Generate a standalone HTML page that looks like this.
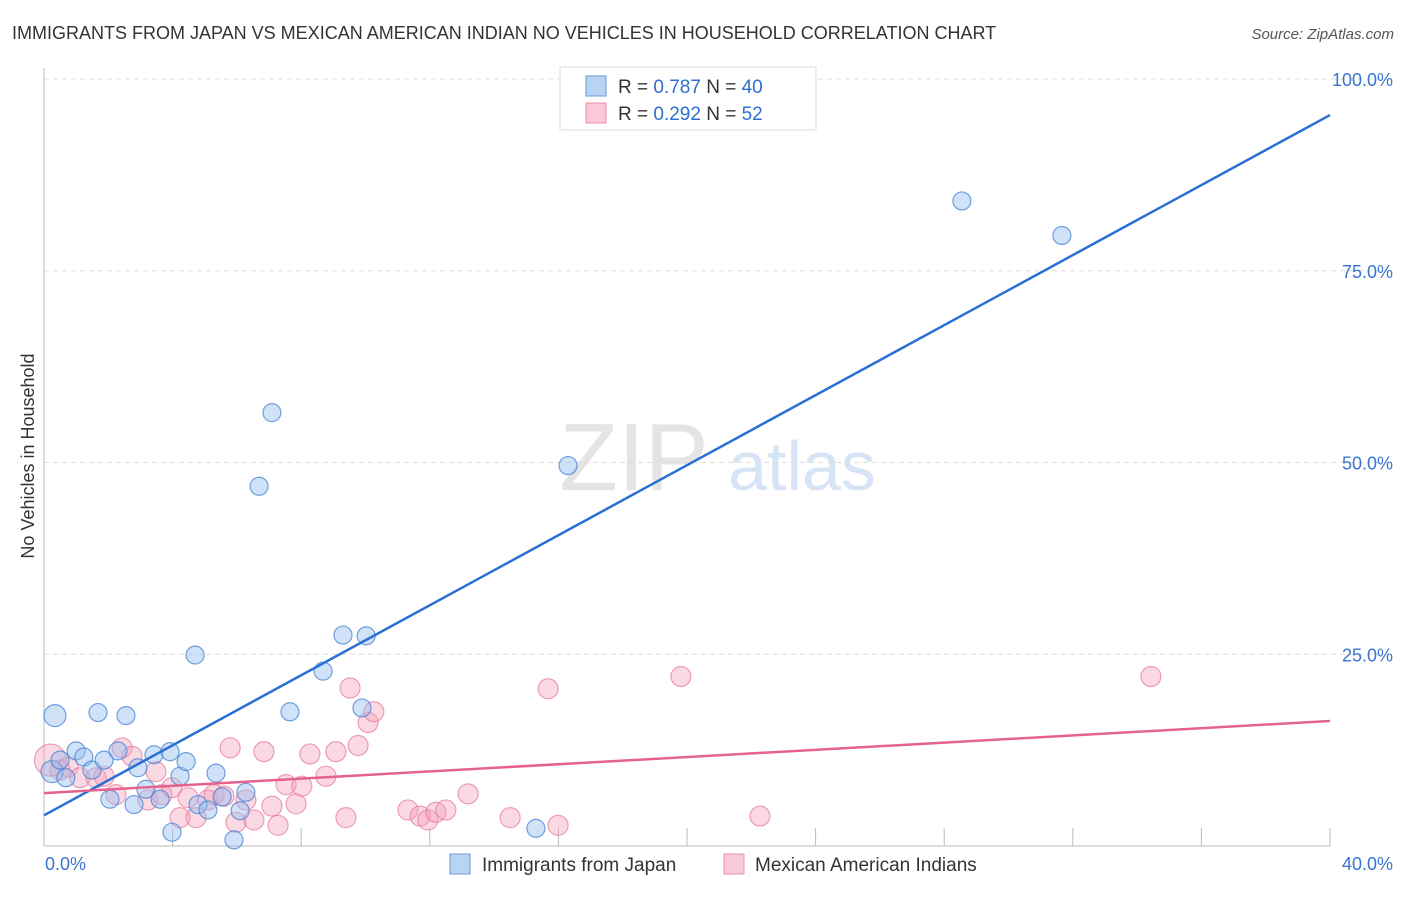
<!DOCTYPE html>
<html><head><meta charset="utf-8"><style>
body{margin:0;background:#fff;font-family:"Liberation Sans",sans-serif}
svg text{font-family:"Liberation Sans",sans-serif}
</style></head><body>
<svg id="c" width="1406" height="892" xmlns="http://www.w3.org/2000/svg">
<text x="12" y="39" font-size="18" fill="#333">IMMIGRANTS FROM JAPAN VS MEXICAN AMERICAN INDIAN NO VEHICLES IN HOUSEHOLD CORRELATION CHART</text>
<text x="1394" y="39" font-size="15" fill="#555" font-style="italic" text-anchor="end">Source: ZipAtlas.com</text>
<text x="634" y="490" font-size="96" fill="#e4e4e4" font-family="Liberation Serif" text-anchor="middle">ZIP</text>
<text x="802" y="490" font-size="70" fill="#d6e4f5" text-anchor="middle">atlas</text>
<text transform="translate(34,456) rotate(-90)" font-size="18" fill="#333" text-anchor="middle">No Vehicles in Household</text>
<g id="grid"></g><g id="pts"></g><g id="lines"></g>
<g>
<rect x="560" y="67" width="256" height="63" fill="#fff" stroke="#ddd"/>
<rect x="586" y="76" width="20" height="20" fill="#b9d3f5" stroke="#6a9ee0"/>
<rect x="586" y="103" width="20" height="20" fill="#f9c9d7" stroke="#e890ab"/>
<text x="618" y="93" font-size="19" fill="#333">R = <tspan fill="#2c6fd1">0.787</tspan>   N = <tspan fill="#2c6fd1">40</tspan></text>
<text x="618" y="120" font-size="19" fill="#333">R = <tspan fill="#2c6fd1">0.292</tspan>   N =  <tspan fill="#2c6fd1">52</tspan></text>
</g>
<g>
<rect x="450" y="854" width="20" height="20" fill="#b9d3f5" stroke="#6a9ee0"/>
<text x="482" y="871" font-size="19" fill="#333">Immigrants from Japan</text>
<rect x="724" y="854" width="20" height="20" fill="#f9c9d7" stroke="#e890ab"/>
<text x="755" y="871" font-size="19" fill="#333">Mexican American Indians</text>
</g>
</svg>
<script>
const yTicks=[25,50,75,100];
const yTickLabels=["25.0%","50.0%","75.0%","100.0%"];
const xTickValues=[4,8,12,16,20,24,28,32,36,40];
const xLabels=["0.0%","40.0%"];
const japanX=[0.34,1.68,2.55,0.25,0.5,1.0,1.24,1.49,1.87,2.05,2.3,2.8,2.92,3.17,3.42,3.61,3.92,3.98,4.23,4.42,4.7,4.79,5.1,5.35,5.54,5.91,6.1,6.28,6.69,7.09,7.65,8.68,9.3,10.02,9.89,15.3,16.3,28.55,31.66,0.68];
const japanY=[17.0,17.4,17.0,9.7,11.2,12.4,11.6,9.9,11.2,6.1,12.4,5.4,10.2,7.4,11.9,6.1,12.3,1.8,9.1,11.0,24.9,5.4,4.7,9.5,6.4,0.8,4.6,7.0,46.9,56.5,17.5,22.8,27.5,27.4,18.0,2.3,49.6,84.1,79.6,8.9];
const mexX=[0.2,0.5,0.75,1.12,1.62,1.87,2.24,2.43,2.74,3.23,3.48,3.67,3.98,4.23,4.48,4.73,5.1,5.29,5.6,5.79,5.97,6.28,6.53,6.84,7.09,7.28,7.53,7.84,8.02,8.27,8.77,9.08,9.39,9.52,9.77,10.08,10.26,11.32,11.7,11.94,12.19,12.5,13.19,14.5,15.68,15.99,19.81,22.27,34.43];
const mexY=[11.2,9.9,10.3,8.9,8.9,9.1,6.7,12.8,11.7,6.0,9.7,6.7,7.6,3.7,6.3,3.7,6.0,6.7,6.5,12.8,3.1,6.0,3.4,12.3,5.2,2.7,8.0,5.5,7.8,12.0,9.1,12.3,3.7,20.6,13.1,16.1,17.5,4.7,3.9,3.4,4.4,4.7,6.8,3.7,20.5,2.7,22.1,3.9,22.1];
const japanTrend=[4.0,95.3];
const mexTrend=[6.9,16.3];
const X0=44,X1=1330,Y0=846,Y100=79;
const sx=v=>X0+v/40*(X1-X0);
const sy=v=>Y0-v/100*(Y0-Y100);
const NS="http://www.w3.org/2000/svg";
function mk(tag,attrs,parent){const e=document.createElementNS(NS,tag);for(const k in attrs)e.setAttribute(k,attrs[k]);parent.appendChild(e);return e;}
const grid=document.getElementById('grid');
yTicks.forEach((t,i)=>{
 const l=mk('line',{x1:X0,x2:1394,y1:sy(t),y2:sy(t),stroke:'#ddd','stroke-dasharray':'5,4'},grid);
 
 
 const tx=mk('text',{x:1393,y:sy(t)+7,'font-size':18,fill:'#3a74d0','text-anchor':'end'},grid);
 tx.textContent=yTickLabels[i];
 
 
});
const ax=mk('line',{x1:X0,x2:X0,y1:68,y2:Y0,stroke:'#bbb'},grid);


const bx=mk('line',{x1:X0,x2:X1,y1:Y0,y2:Y0,stroke:'#bbb'},grid);


xTickValues.forEach(v=>{
 const l=mk('line',{x1:sx(v),x2:sx(v),y1:Y0,y2:Y0-18,stroke:'#bbb'},grid);
 
 
});
[[0,'start',xLabels[0]],[40,'end',xLabels[1]]].forEach(a=>{
 const t=mk('text',{x:a[0]===0?sx(0)+1:sx(40)+63,y:870,'font-size':18,fill:'#3a74d0','text-anchor':a[1]},grid);
 t.textContent=a[2];
 
 
});
const pts=document.getElementById('pts');
mexX.forEach((x,i)=>{
 const c=mk('circle',{cx:sx(x),cy:sy(mexY[i]),r:i===0?16:10,fill:'rgba(244,160,185,0.4)',stroke:'rgba(230,120,155,0.7)','stroke-width':1.2},pts);
 
 
});
japanX.forEach((x,i)=>{
 const c=mk('circle',{cx:sx(x),cy:sy(japanY[i]),r:(i===0||i===3)?11:9,fill:'rgba(150,190,240,0.45)',stroke:'rgba(70,130,210,0.75)','stroke-width':1.2},pts);
 
 
});
const lines=document.getElementById('lines');
const l1=mk('line',{x1:sx(0),y1:sy(japanTrend[0]),x2:sx(40),y2:sy(japanTrend[1]),stroke:'#2a6fd6','stroke-width':2.5},lines);


const l2=mk('line',{x1:sx(0),y1:sy(mexTrend[0]),x2:sx(40),y2:sy(mexTrend[1]),stroke:'#e5628e','stroke-width':2.5},lines);


</script>
</body></html>
